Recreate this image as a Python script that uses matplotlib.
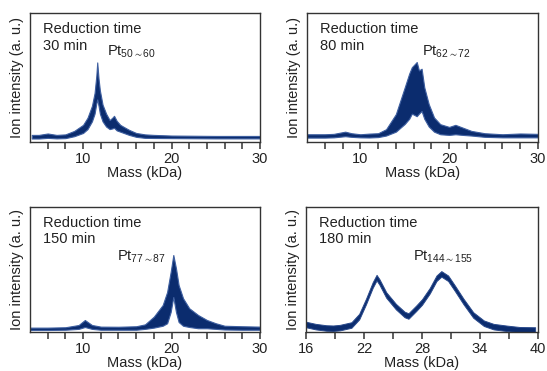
import matplotlib
matplotlib.use("Agg")
import matplotlib.pyplot as plt
import numpy as np

plt.rcParams['font.family'] = ['Liberation Sans', 'DejaVu Sans']
plt.rcParams['mathtext.fontset'] = 'custom'
plt.rcParams['mathtext.rm'] = 'Liberation Sans'
plt.rcParams['mathtext.it'] = 'Liberation Sans'

# ---- data (a.u., 0-100 scale) ----
times = ["30 min", "80 min", "150 min", "180 min"]
species = ["50\\sim60", "62\\sim72", "77\\sim87", "144\\sim155"]

m30 = [4.2, 5, 6, 7, 8, 9, 10, 10.5, 11, 11.3, 11.5, 11.6, 11.75, 11.9, 12.2, 12.6, 13, 13.3, 13.5, 13.8, 14.2, 14.6, 15.2, 16, 17, 18, 20, 25, 30]
up30 = [5.5, 5.5, 6.6, 5.5, 5.9, 8.6, 13.3, 18.8, 28, 38, 51.6, 61.7, 49, 40, 29, 22, 17, 18.8, 20.3, 16.4, 13.3, 11.7, 9.4, 7, 5.9, 5.5, 5, 4.7, 4.7]
lo30 = [2.7, 2.7, 3.2, 2.8, 3, 4.5, 7, 10, 16, 22, 30, 33, 28, 22, 16, 12, 10, 10.5, 11, 9, 8, 7, 5.5, 4, 3.2, 3.1, 3, 2.8, 2.8]

m80 = [4, 6, 7, 8.3, 9, 10, 11, 12, 12.9, 14, 14.5, 15, 15.5, 15.8, 16.35, 16.6, 16.9, 17.2, 17.7, 18.3, 19, 20, 20.7, 21.5, 22.5, 24, 26, 28, 30]
up80 = [6, 6, 6.3, 8, 6.8, 6, 6.5, 6.8, 9.9, 21.6, 32, 42.4, 53, 58, 62, 55.5, 56.8, 42.4, 29.4, 19, 13.8, 11.7, 13.3, 11.2, 8.6, 6.8, 6, 6.6, 6.3]
lo80 = [3.4, 3.4, 3.6, 4.5, 4, 3.6, 3.5, 3.8, 5, 8, 11, 14, 18, 22, 20, 22, 24, 18, 12, 8, 6, 5.5, 6, 5.5, 5, 4, 3.6, 3.6, 3.6]

m150 = [4, 6, 8, 9.5, 10.2, 11, 12, 14, 16, 17, 18, 19, 19.5, 19.9, 20.2, 20.5, 20.8, 21.3, 22, 23, 24, 25, 26, 28, 30]
up150 = [3.5, 3.5, 3.8, 5.6, 9.6, 5.6, 4.3, 4.2, 4.6, 6.1, 12.3, 21.6, 32, 48, 61.6, 51, 37.6, 27, 19, 13.6, 9.6, 7, 5, 4.6, 4.3]
lo150 = [1.6, 1.6, 1.8, 2.5, 4, 2.5, 1.8, 1.8, 1.8, 2.5, 3.5, 5, 7, 16, 28, 16, 8, 5, 4, 3, 3, 2.5, 2, 1.8, 1.8]

m180 = [16, 17, 18.1, 18.8, 19.5, 20.7, 21.5, 22.2, 22.9, 23.3, 23.6, 24.3, 25.3, 26.2, 26.6, 27.4, 28.0, 28.8, 29.5, 30.0, 30.7, 31.4, 32.3, 33.3, 34.4, 35.4, 36.8, 38.1, 39.7]
c180 = [6, 4.3, 3.2, 3, 3.5, 5.6, 12.3, 24.3, 37.6, 43.5, 40, 29.6, 20.3, 14, 12.8, 19, 24, 33, 43, 46.5, 43, 35, 24.3, 13.6, 7, 4.3, 2.9, 1.8, 1.6]
hw180 = 2.2  # half thickness of trace

dark = '#0b2c6e'
edge = '#3e5fa0'
txt = '#222222'

W, H = 547, 371
fig = plt.figure(figsize=(W / 100, H / 100), dpi=100)

def ax_at(l, t, r, b):
    return fig.add_axes([l / W, 1 - b / H, (r - l) / W, (b - t) / H])

boxes = [(30, 13, 260, 142), (307, 13, 538, 142), (30, 207, 260, 332), (306, 207, 538, 332)]
axes = [ax_at(*bx) for bx in boxes]

def style(ax, xlim, major, minor):
    ax.set_xlim(*xlim)
    ax.set_ylim(0, 100)
    ax.set_yticks([])
    ax.set_xticks(major)
    ax.set_xticks(minor, minor=True)
    ax.tick_params(axis='x', which='both', direction='out', length=5, width=1.1,
                   color='#333333', labelsize=10.5, labelcolor=txt, pad=2)
    for s in ax.spines.values():
        s.set_color('#333333')
        s.set_linewidth(1.0)
    ax.set_xlabel('Mass (kDa)', fontsize=10.5, color=txt, labelpad=0)
    ax.set_ylabel('Ion intensity (a. u.)', fontsize=10.5, color=txt, labelpad=4)

series = [(m30, up30, lo30), (m80, up80, lo80), (m150, up150, lo150)]
for ax, (m, up, lo) in zip(axes[:3], series):
    ax.fill_between(m, lo, up, color=dark, linewidth=0.8, edgecolor=edge)
    style(ax, (4, 30), [10, 20, 30], [6, 8, 12, 14, 16, 18, 22, 24, 26, 28])

ax = axes[3]
c = np.array(c180)
ax.fill_between(m180, c - hw180, c + hw180, color=dark, linewidth=0.7, edgecolor='#2a4a8c')
style(ax, (16, 40), [16, 22, 28, 34, 40], [19, 25, 31, 37])

# texts
for ax, t in zip(axes, times):
    ax.text(0.055, 0.93, 'Reduction time', transform=ax.transAxes, fontsize=10.5,
            color=txt, va='top', ha='left')
    ax.text(0.055, 0.80, t, transform=ax.transAxes, fontsize=10.5,
            color=txt, va='top', ha='left')

pt_pos = [(107, 52), (422, 52), (117, 257), (413, 257)]
for (px, py), sp in zip(pt_pos, species):
    fig.text(px / W, 1 - py / H, r'Pt$_{\mathregular{' + sp + '}}$', fontsize=10.5,
             color=txt, va='center', ha='left')

fig.savefig('out.png', dpi=100)
